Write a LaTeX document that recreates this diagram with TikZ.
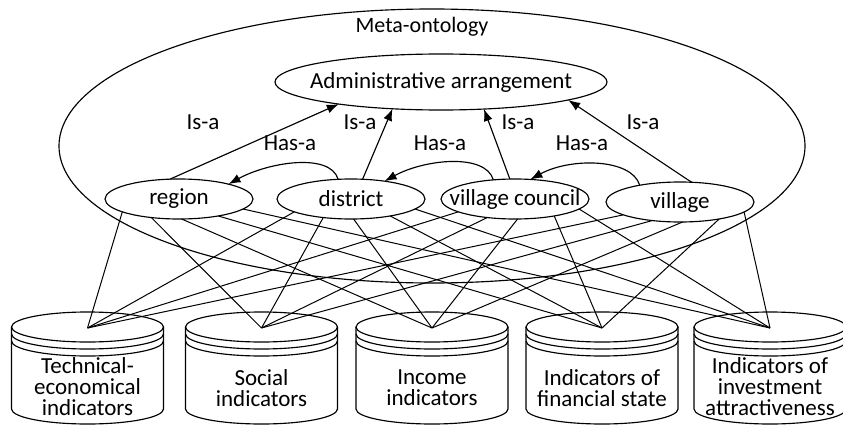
\documentclass[tikz,border=0pt]{standalone}
\usepackage{fontspec}
\setmainfont{Carlito}
\usetikzlibrary{shapes.geometric,arrows.meta,calc}
\begin{document}
\begin{tikzpicture}[x=1pt,y=1pt,line width=1.15pt,
  font=\fontsize{23}{21}\selectfont,
  obj/.style={ellipse,draw,minimum width=148pt,minimum height=40pt,inner sep=0pt},
  isa/.style={-{Latex[length=12pt,width=9pt]}},
  lbl/.style={inner sep=0pt},
  dbtext/.style={align=center,inner sep=0pt},
  link/.style={line width=1pt}]
\useasboundingbox (0,0) rectangle (843,424);
\clip (0,0) rectangle (843,424);

% big ellipse
\node[ellipse,draw,minimum width=746pt,minimum height=274pt,inner sep=0pt] (meta) at (432,278) {};
\node[lbl,font=\fontsize{22}{22}\selectfont] (metalbl) at (422,397) {Meta-ontology};

% top concept
\node[obj,minimum width=332pt,minimum height=56pt] (adm) at (441,342) {\makebox[0pt]{\raisebox{2pt}{Administrative arrangement}}};

% level concepts
\node[obj] (region)   at (179,225) {\makebox[0pt]{region}};
\node[obj] (district) at (351,225) {\makebox[0pt]{district}};
\node[obj] (council)  at (515,225) {\makebox[0pt]{village council}};
\node[obj] (village)  at (680,222) {\makebox[0pt]{village}};

% cylinders
\foreach \cx/\n in {87.5/1,261.5/2,432/3,602/4,770/5}{
  \draw (\cx,97) ellipse (76 and 15);
  \draw (\cx-76,97) -- (\cx-76,15) arc[start angle=180,end angle=360,x radius=76,y radius=15] -- (\cx+76,97);
  \draw (\cx-76,90) arc[start angle=180,end angle=360,x radius=76,y radius=15];
  \draw (\cx-76,83) arc[start angle=180,end angle=360,x radius=76,y radius=15];
  \coordinate (c\n) at (\cx,96);
}
\node[dbtext] (t1) at (87.5,37) {Technical-\\economical\\indicators};
\node[dbtext] (t2) at (261.5,36) {Social\\indicators};
\node[dbtext] (t3) at (432,36) {Income\\indicators};
\node[dbtext] (t4) at (602,36) {Indicators of\\financial state};
\node[dbtext] (t5) at (770,37) {Indicators of\\investment\\attractiveness};

% links to data sources
\foreach \e in {region,district,council,village}{
  \foreach \k/\a in {1/220,2/248,3/272,4/302,5/330}{
    \draw[link] ($(\e)+(\a:74 and 20)$) -- (c\k);
  }
}

% Is-a
\draw[isa] ($(region)+(97:74 and 20)$) -- ($(adm)+(232:166 and 28)$);
\draw[isa] ($(district)+(81:74 and 20)$) -- ($(adm)+(253:166 and 28)$);
\draw[isa] ($(council)+(94:74 and 20)$) -- ($(adm)+(285:166 and 28)$);
\draw[isa] ($(village)+(81:74 and 20)$) -- ($(adm)+(320:166 and 28)$);
\node[lbl] (isa1) at (203,302) {Is-a};
\node[lbl] (isa2) at (360,302) {Is-a};
\node[lbl] (isa3) at (518,302) {Is-a};
\node[lbl] (isa4) at (643,302) {Is-a};

% Has-a
\coordinate (s1) at ($(district)+(100:74 and 20)$);
\coordinate (e1) at ($(region)+(48:74 and 20)$);
\coordinate (s2) at ($(council)+(107:74 and 20)$);
\coordinate (e2) at ($(district)+(63:74 and 20)$);
\coordinate (s3) at ($(village)+(123:74 and 20)$);
\coordinate (e3) at ($(council)+(78:74 and 20)$);
\foreach \i in {1,2,3}{
  \draw[isa] (s\i) .. controls ($(s\i)+(-8,27)$) and ($(e\i)+(40,22)$) .. (e\i);
}
\node[lbl] (has1) at (290,281) {Has-a};
\node[lbl] (has2) at (440,281) {Has-a};
\node[lbl] (has3) at (582,281) {Has-a};
\end{tikzpicture}
\end{document}
